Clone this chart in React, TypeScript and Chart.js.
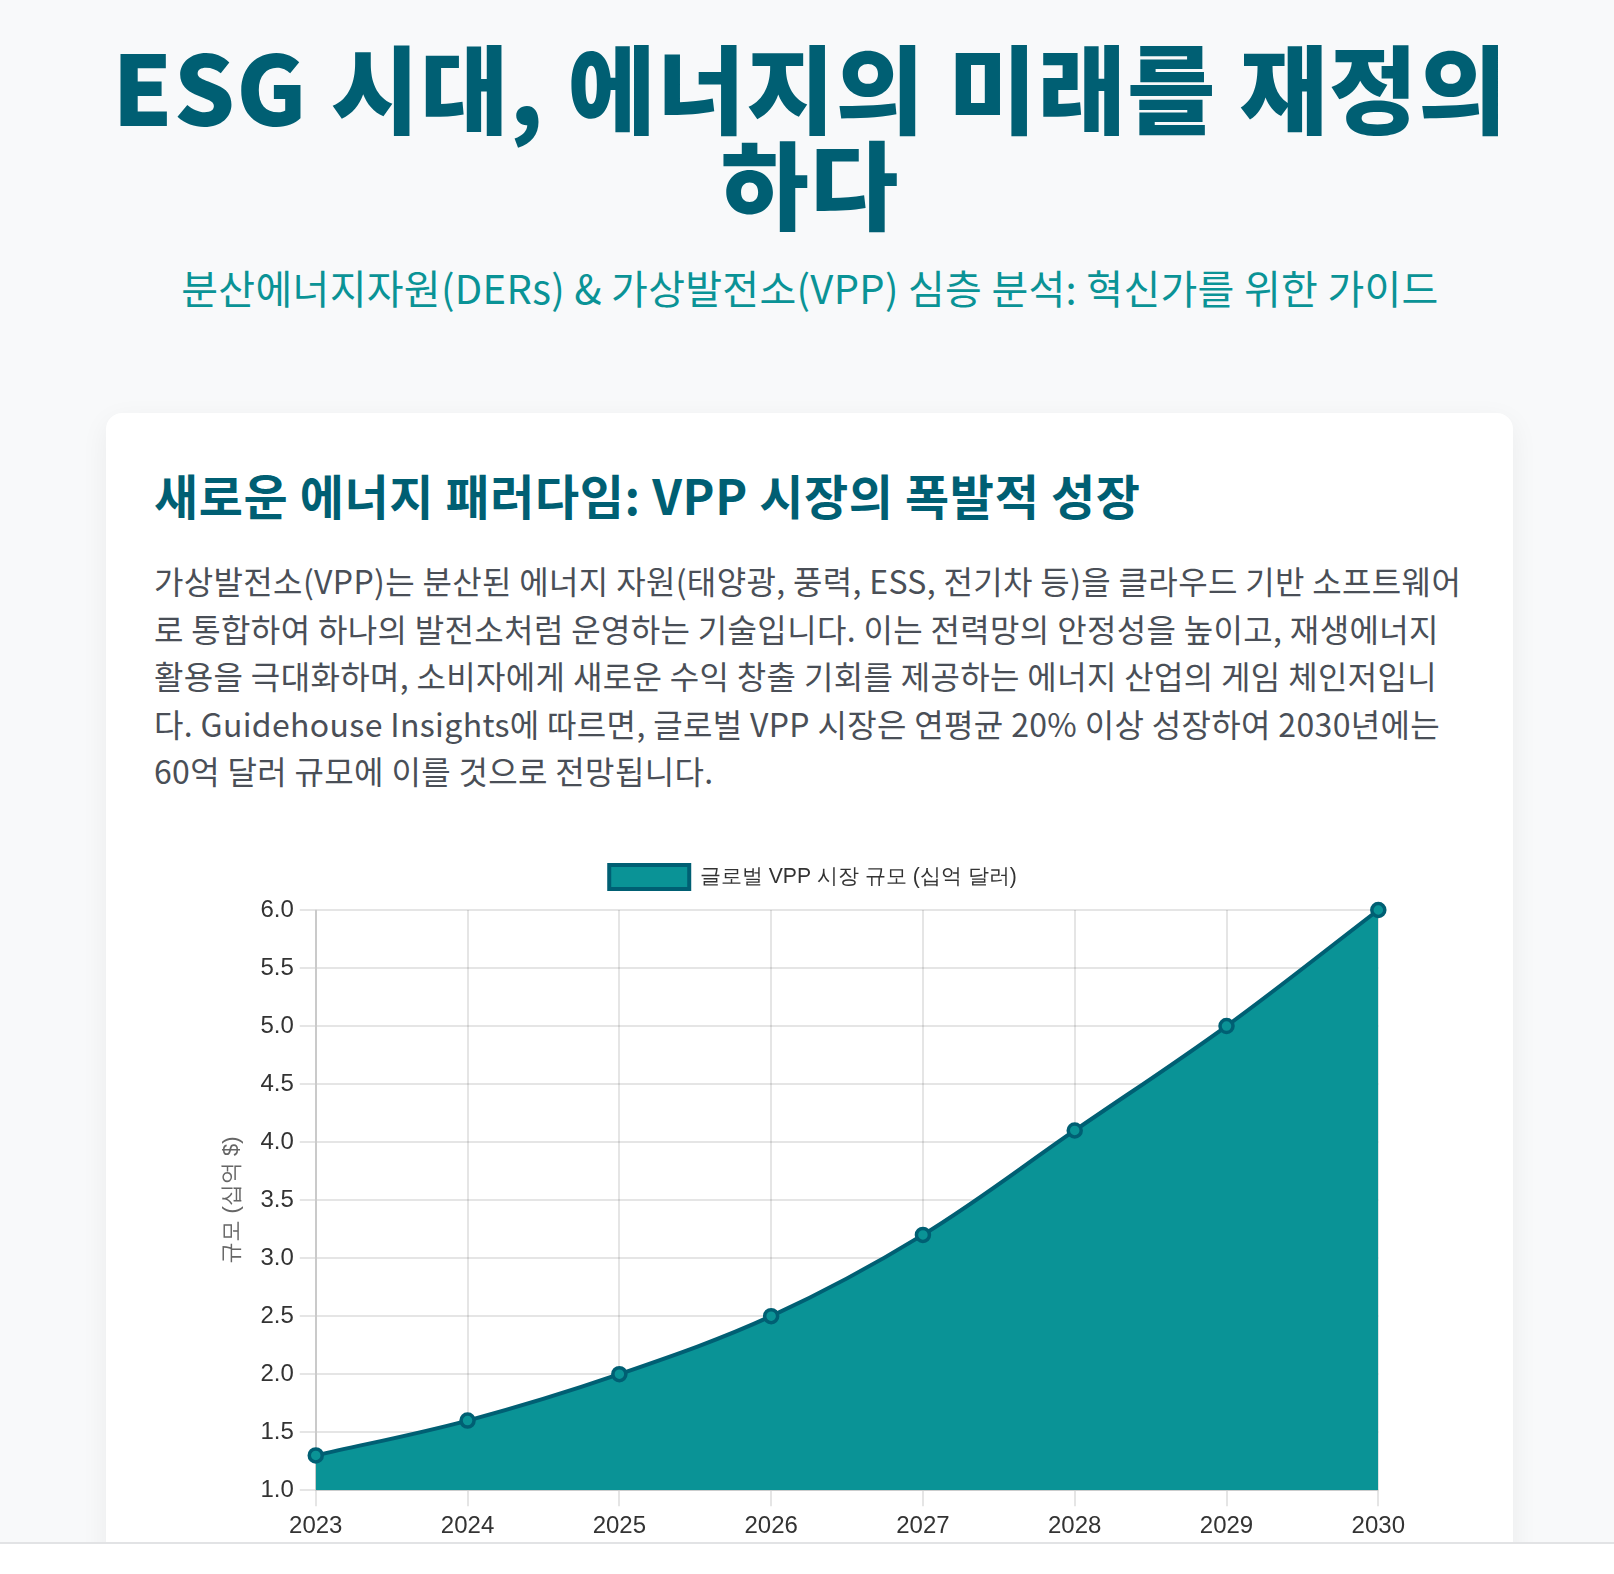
import React, { useEffect, useRef } from "react";
import { Chart, registerables } from "chart.js";

Chart.register(...registerables);

const years = ["2023", "2024", "2025", "2026", "2027", "2028", "2029", "2030"];
const marketSize = [1.3, 1.6, 2.0, 2.5, 3.2, 4.1, 5.0, 6.0];
const yTicks = [1.0, 1.5, 2.0, 2.5, 3.0, 3.5, 4.0, 4.5, 5.0, 5.5, 6.0];
const seriesLabel = "글로벌 VPP 시장 규모 (십억 달러)";
const yAxisTitle = "규모 (십억 $)";

const titleLine1 = "ESG 시대, 에너지의 미래를 재정의";
const titleLine2 = "하다";
const subtitle = "분산에너지자원(DERs) & 가상발전소(VPP) 심층 분석: 혁신가를 위한 가이드";
const cardHeading = "새로운 에너지 패러다임: VPP 시장의 폭발적 성장";
const paragraphLines = [
  "가상발전소(VPP)는 분산된 에너지 자원(태양광, 풍력, ESS, 전기차 등)을 클라우드 기반 소프트웨어",
  "로 통합하여 하나의 발전소처럼 운영하는 기술입니다. 이는 전력망의 안정성을 높이고, 재생에너지",
  "활용을 극대화하며, 소비자에게 새로운 수익 창출 기회를 제공하는 에너지 산업의 게임 체인저입니",
  "다. Guidehouse Insights에 따르면, 글로벌 VPP 시장은 연평균 20% 이상 성장하여 2030년에는",
  "60억 달러 규모에 이를 것으로 전망됩니다.",
];

const KR = "'Noto Sans CJK KR', 'Noto Sans', sans-serif";

const legendGap = {
  id: "legendGap",
  beforeInit(chart: any) {
    const legend = chart.legend;
    if (!legend) return;
    const orig = legend.fit;
    legend.fit = function () {
      orig.call(this);
      this.height += 11;
    };
  },
};

function VppChart() {
  const ref = useRef<HTMLCanvasElement | null>(null);
  useEffect(() => {
    if (!ref.current) return;
    const chart = new Chart(ref.current, {
      type: "line",
      data: {
        labels: years,
        datasets: [
          {
            label: seriesLabel,
            data: marketSize,
            backgroundColor: "#0a9396",
            borderColor: "#005f73",
            borderWidth: 4,
            fill: "start",
            tension: 0.35,
            clip: false,
            pointRadius: 6.5,
            pointBorderWidth: 3.5,
            pointBackgroundColor: "#0a9396",
            pointBorderColor: "#005f73",
          },
        ],
      },
      options: {
        animation: false,
        responsive: false,
        maintainAspectRatio: false,
        layout: { padding: 0 },
        plugins: {
          legend: {
            display: true,
            position: "top",
            labels: {
              font: { size: 21.2 },
              color: "#333",
              boxWidth: 80,
              boxHeight: 24,
              padding: 11,
            },
          },
          tooltip: { enabled: false },
        },
        scales: {
          x: {
            grid: { color: "rgba(0,0,0,0.1)", lineWidth: 2, tickLength: 16 },
            border: { color: "rgba(0,0,0,0.1)", width: 2 },
            ticks: { font: { size: 24 }, color: "#333", padding: 6 },
          },
          y: {
            min: yTicks[0],
            max: yTicks[yTicks.length - 1],
            afterBuildTicks: (axis: any) => {
              axis.ticks = yTicks.map((v) => ({ value: v }));
            },
            grid: { color: "rgba(0,0,0,0.1)", lineWidth: 2, tickLength: 16 },
            border: { color: "rgba(0,0,0,0.12)", width: 2 },
            ticks: {
              font: { size: 24 },
              color: "#333",
              padding: 6,
              callback: (v: any) => Number(v).toFixed(1),
            },
            title: {
              display: true,
              text: yAxisTitle,
              font: { size: 22 },
              color: "#666",
              padding: { top: 4, bottom: 9 },
            },
          },
        },
      },
      plugins: [legendGap],
    });
    return () => chart.destroy();
  }, []);
  return (
    <canvas
      ref={ref}
      width={1196}
      height={693}
      style={{ position: "absolute", left: 215, top: 854, width: 1196, height: 693 }}
    />
  );
}

export default function App() {
  return (
    <div style={{ position: "fixed", inset: 0, background: "#ffffff", overflow: "hidden" }}>
      <div
        style={{
          position: "absolute",
          left: 0,
          top: 0,
          width: 1614,
          height: 1542,
          background: "#f8f9fa",
          overflow: "hidden",
          fontFamily: KR,
        }}
      >
        <div
          style={{
            position: "absolute",
            left: 0,
            width: 1620,
            top: 37,
            textAlign: "center",
            fontSize: 96,
            lineHeight: "96px",
            fontWeight: 900,
            letterSpacing: "1.1px",
            color: "#005f73",
            whiteSpace: "nowrap",
          }}
        >
          {titleLine1}
          <br />
          {titleLine2}
        </div>
        <div
          style={{
            position: "absolute",
            left: 0,
            width: 1620,
            top: 265,
            textAlign: "center",
            fontSize: 40,
            lineHeight: "44px",
            letterSpacing: "0.3px",
            color: "#0a9396",
            whiteSpace: "nowrap",
          }}
        >
          {subtitle}
        </div>
        <div
          style={{
            position: "absolute",
            left: 106,
            top: 413,
            width: 1407,
            height: 1400,
            background: "#ffffff",
            borderRadius: 16,
            boxShadow: "0 8px 28px rgba(0,0,0,0.06)",
          }}
        />
        <div
          style={{
            position: "absolute",
            left: 154,
            top: 466,
            fontSize: 48,
            lineHeight: "56px",
            fontWeight: 700,
            letterSpacing: "0.6px",
            color: "#005f73",
            whiteSpace: "nowrap",
          }}
        >
          {cardHeading}
        </div>
        <div
          style={{
            position: "absolute",
            left: 154,
            top: 557,
            fontSize: 32,
            lineHeight: "47.5px",
            letterSpacing: "0.34px",
            color: "#4a4f57",
          }}
        >
          {paragraphLines.map((l, i) => (
            <div key={i} style={{ whiteSpace: "nowrap" }}>
              {l}
            </div>
          ))}
        </div>
        <VppChart />
      </div>
      <div
        style={{ position: "absolute", left: 0, top: 1542, width: 1614, height: 2, background: "#e2e3e5" }}
      />
    </div>
  );
}
